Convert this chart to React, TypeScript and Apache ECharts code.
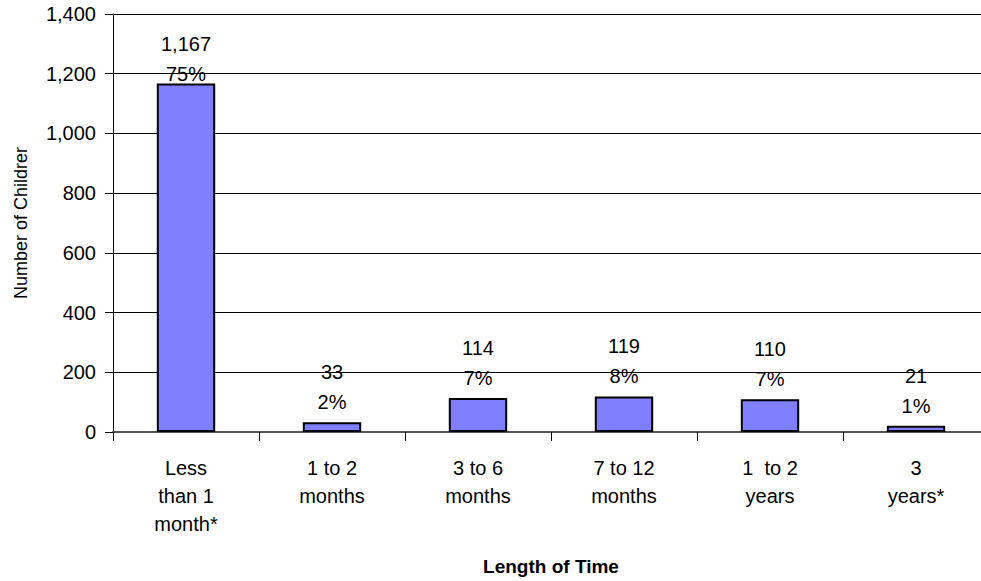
import React, { useEffect, useRef } from "react";
import * as echarts from "echarts";

const categories = [
  "Less\nthan 1\nmonth*",
  "1 to 2\nmonths",
  "3 to 6\nmonths",
  "7 to 12\nmonths",
  "1  to 2\nyears",
  "3\nyears*",
];
const counts = [1167, 33, 114, 119, 110, 21];
const percents = ["75%", "2%", "7%", "8%", "7%", "1%"];
const yTicks = [0, 200, 400, 600, 800, 1000, 1200, 1400];

const FONT = "'Liberation Sans', Arial, sans-serif";

export default function App() {
  const ref = useRef<HTMLDivElement>(null);
  useEffect(() => {
    if (!ref.current) return;
    const chart = echarts.init(ref.current, null, { renderer: "svg" });
    chart.setOption({
      animation: false,
      backgroundColor: "#ffffff",
      textStyle: { fontFamily: FONT },
      grid: {
        left: 113,
        top: 14,
        width: 876,
        height: 418,
        containLabel: false,
        outerBoundsMode: "none",
      },
      xAxis: {
        type: "category",
        data: categories,
        name: "Length of Time",
        nameLocation: "middle",
        nameGap: 125,
        nameTextStyle: { fontFamily: FONT, fontSize: 19, fontWeight: "bold", color: "#000" },
        axisLine: { show: true, lineStyle: { color: "#555", width: 2 } },
        axisTick: { show: true, alignWithLabel: false, length: 9, inside: false, lineStyle: { color: "#000", width: 1 } },
        axisLabel: { fontFamily: FONT, fontSize: 20, color: "#000", lineHeight: 28, margin: 22, interval: 0 },
        splitLine: { show: false },
      },
      yAxis: {
        type: "value",
        min: yTicks[0],
        max: yTicks[yTicks.length - 1],
        interval: 200,
        name: "Number of Childrer",
        nameLocation: "middle",
        nameGap: 83,
        nameTextStyle: { fontFamily: FONT, fontSize: 18, color: "#000" },
        axisLine: { show: true, lineStyle: { color: "#000", width: 1 } },
        axisTick: { show: true, length: 8, lineStyle: { color: "#000" } },
        axisLabel: {
          fontFamily: FONT,
          fontSize: 20,
          color: "#000",
          margin: 17,
          formatter: (v: number) => v.toLocaleString("en-US"),
        },
        splitLine: { show: true, lineStyle: { color: "#000", width: 1 } },
      },
      series: [
        {
          type: "bar",
          barWidth: "40%",
          data: counts.map((v, i) => ({
            value: v,
            label: i === 0 ? { distance: -5 } : undefined,
          })),
          itemStyle: { color: "#8080FF", borderColor: "#000", borderWidth: 2 },
          label: {
            show: true,
            position: "top",
            distance: 5,
            fontFamily: FONT,
            fontSize: 20,
            color: "#000",
            lineHeight: 30,
            formatter: (p: any) => `${counts[p.dataIndex].toLocaleString("en-US")}\n${percents[p.dataIndex]}`,
          },
        },
      ],
    });
    return () => chart.dispose();
  }, []);
  return <div ref={ref} style={{ width: 981, height: 581, position: "absolute", left: 0, top: 0 }} />;
}
